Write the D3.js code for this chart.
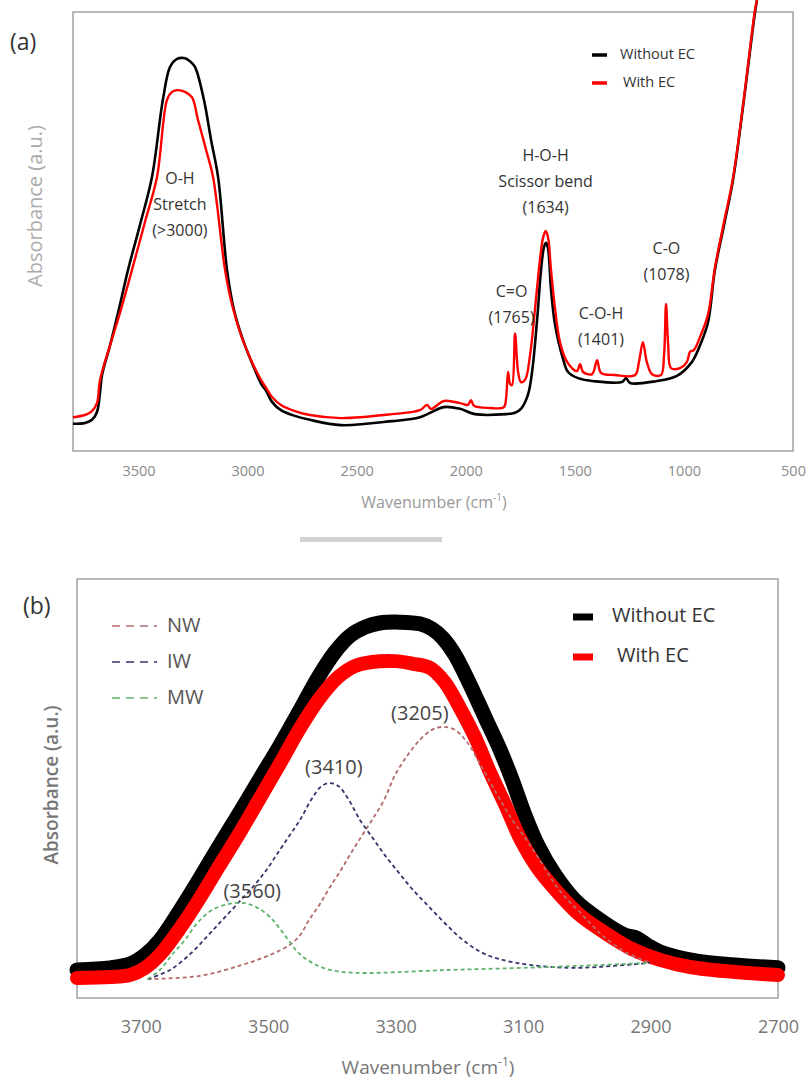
<!DOCTYPE html>
<html>
<head>
<meta charset="utf-8">
<script src="https://cdn.jsdelivr.net/npm/d3@7"></script>
<style>
  body { margin: 0; background: #fff; }
  text { font-family: "Open Sans", "Noto Sans", sans-serif; }
</style>
</head>
<body>
<script>
// ---- data: panel (a) full FTIR spectrum, [wavenumber, absorbance a.u.] ----
const specWithout = [
  [3800,0.062],[3745,0.064],[3713,0.071],[3690,0.089],[3676,0.134],[3667,0.173],[3630,0.241],
  [3585,0.333],[3548,0.412],[3493,0.515],[3438,0.624],[3388,0.800],[3355,0.875],
  [3323,0.893],[3291,0.895],[3264,0.888],[3241,0.875],[3200,0.800],[3167,0.708],[3135,0.624],
  [3094,0.412],[3062,0.321],[3021,0.253],[2970,0.189],[2934,0.150],[2915,0.137],[2888,0.112],
  [2847,0.093],[2783,0.080],[2714,0.071],[2572,0.059],[2338,0.068],[2210,0.077],[2100,0.100],
  [2026,0.096],[1958,0.084],[1815,0.084],[1774,0.087],[1747,0.096],[1715,0.128],[1696,0.180],
  [1673,0.298],[1655,0.412],[1641,0.465],[1632,0.474],[1623,0.462],[1609,0.367],[1591,0.289],
  [1554,0.210],[1531,0.180],[1485,0.166],[1412,0.159],[1284,0.157],[1265,0.166],[1247,0.155],
  [1128,0.159],[1032,0.171],[963,0.203],[926,0.241],[890,0.292],[858,0.412],[816,0.515],
  [775,0.617],[725,0.800],[674,1.000],[665,1.027]
];
const specWith = [
  [3800,0.077],[3745,0.082],[3713,0.091],[3690,0.109],[3676,0.162],[3630,0.241],[3585,0.314],
  [3530,0.412],[3470,0.522],[3415,0.624],[3369,0.800],[3346,0.818],
  [3319,0.822],[3287,0.818],[3255,0.806],[3227,0.754],[3190,0.686],[3158,0.624],[3103,0.412],
  [3071,0.333],[3030,0.264],[2980,0.203],[2943,0.166],[2915,0.144],[2888,0.123],[2847,0.105],
  [2783,0.091],[2714,0.082],[2572,0.075],[2338,0.084],[2210,0.093],[2177,0.105],[2159,0.096],
  [2100,0.114],[2026,0.109],[1990,0.105],[1976,0.116],[1962,0.103],[1889,0.098],[1825,0.100],
  [1815,0.121],[1806,0.180],[1797,0.153],[1788,0.150],[1774,0.268],[1760,0.180],[1747,0.157],
  [1728,0.162],[1705,0.219],[1683,0.321],[1660,0.435],[1646,0.485],[1634,0.501],[1623,0.487],
  [1609,0.412],[1591,0.326],[1568,0.248],[1540,0.207],[1513,0.189],[1490,0.182],[1476,0.198],
  [1462,0.180],[1421,0.175],[1398,0.207],[1380,0.178],[1316,0.173],[1224,0.173],[1206,0.203],
  [1188,0.248],[1170,0.203],[1146,0.175],[1105,0.173],[1091,0.219],[1082,0.335],[1072,0.241],
  [1059,0.189],[1018,0.189],[986,0.203],[972,0.226],[954,0.230],[926,0.260],[890,0.310],
  [858,0.417],[816,0.522],[775,0.622],[725,0.804],[674,1.005],[665,1.027]
];
const ticksA = [3500, 3000, 2500, 2000, 1500, 1000, 500];
const notesA = [
  { wn: 3310, a: 0.618, lines: ["O-H", "Stretch", "(>3000)"] },
  { wn: 1634, a: 0.670, lines: ["H-O-H", "Scissor bend", "(1634)"] },
  { wn: 1790, a: 0.360, lines: ["C=O", "(1765)"] },
  { wn: 1380, a: 0.310, lines: ["C-O-H", "(1401)"] },
  { wn: 1080, a: 0.458, lines: ["C-O", "(1078)"] }
];

// ---- data: panel (b) O-H band and its three fitted components ----
const bandWithout = [
  [3800,0.067],[3748,0.072],[3717,0.081],[3693,0.103],[3670,0.138],[3638,0.210],[3607,0.286],
  [3576,0.365],[3544,0.444],[3513,0.523],[3481,0.604],[3450,0.687],[3422,0.764],[3395,0.826],
  [3372,0.864],[3348,0.885],[3325,0.895],[3293,0.897],[3262,0.893],[3243,0.881],[3226,0.859],
  [3207,0.819],[3183,0.747],[3160,0.671],[3136,0.592],[3117,0.520],[3099,0.444],[3077,0.365],
  [3050,0.294],[3019,0.234],[2979,0.186],[2940,0.150],[2922,0.143],[2904,0.125],[2885,0.110],
  [2827,0.088],[2767,0.079],[2700,0.072]
];
const bandWith = [
  [3800,0.048],[3748,0.050],[3717,0.055],[3693,0.072],[3670,0.103],[3638,0.167],[3607,0.239],
  [3576,0.317],[3544,0.396],[3513,0.477],[3481,0.561],[3450,0.644],[3419,0.716],[3390,0.766],
  [3364,0.792],[3337,0.802],[3301,0.804],[3270,0.797],[3246,0.788],[3223,0.754],[3199,0.692],
  [3175,0.621],[3152,0.539],[3128,0.461],[3105,0.382],[3077,0.310],[3045,0.251],[3011,0.198],
  [2971,0.155],[2932,0.119],[2885,0.091],[2838,0.074],[2767,0.062],[2700,0.055]
];
const compNW = [
  [3689,0.045],[3607,0.053],[3541,0.079],[3497,0.103],[3467,0.126],[3450,0.150],[3436,0.186],
  [3419,0.224],[3403,0.265],[3386,0.305],[3370,0.346],[3353,0.387],[3337,0.425],[3318,0.473],
  [3301,0.532],[3281,0.580],[3262,0.616],[3243,0.640],[3226,0.647],[3207,0.640],[3188,0.611],
  [3171,0.568],[3152,0.516],[3136,0.473],[3117,0.425],[3099,0.387],[3081,0.346],[3064,0.305],
  [3047,0.265],[3030,0.234],[3011,0.205],[2992,0.174],[2973,0.146],[2940,0.110],[2901,0.084]
];
const compIW = [
  [3689,0.045],[3654,0.067],[3621,0.107],[3594,0.150],[3572,0.186],[3547,0.227],[3524,0.265],
  [3503,0.305],[3485,0.346],[3466,0.389],[3450,0.425],[3431,0.477],[3416,0.506],[3403,0.513],
  [3390,0.506],[3375,0.477],[3356,0.425],[3337,0.384],[3317,0.341],[3296,0.301],[3274,0.260],
  [3249,0.220],[3223,0.179],[3194,0.138],[3160,0.105],[3111,0.084],[3030,0.072],[2964,0.076],
  [2901,0.084]
];
const compMW = [
  [3689,0.045],[3670,0.067],[3651,0.103],[3631,0.138],[3610,0.181],[3588,0.210],[3563,0.224],
  [3541,0.227],[3519,0.217],[3497,0.193],[3474,0.150],[3452,0.107],[3431,0.084],[3403,0.067],
  [3362,0.060],[3215,0.067],[3058,0.074],[2901,0.084]
];
const ticksB = [3700, 3500, 3300, 3100, 2900, 2700];
const peakLabelsB = [
  { text: "(3205)", wn: 3262, a: 0.677 },
  { text: "(3410)", wn: 3397, a: 0.547 },
  { text: "(3560)", wn: 3525, a: 0.252 }
];
const compNames = ["NW", "IW", "MW"];
const compColors = ["#b46a6a", "#34346e", "#5fb36a"];
const seriesNames = ["Without EC", "With EC"];
const seriesColors = ["#000000", "#ff0000"];

// ---- svg ----
const svg = d3.select("body").append("svg")
  .attr("width", 809).attr("height", 1081);

/////////////////////////// panel (a)
const xA = d3.scaleLinear().domain([3800, 500]).range([73, 793]);
const yA = d3.scaleLinear().domain([0, 1]).range([451, 12]);

svg.append("rect")
  .attr("x", 73).attr("y", 12).attr("width", 720).attr("height", 439)
  .attr("fill", "none").attr("stroke", "#a0a0a0").attr("stroke-width", 1.5);

const lineA = d3.line()
  .x(d => xA(d[0])).y(d => yA(d[1]))
  .curve(d3.curveCatmullRom.alpha(0.5));

svg.append("path").datum(specWithout).attr("d", lineA)
  .attr("fill", "none").attr("stroke", seriesColors[0]).attr("stroke-width", 2.6);
svg.append("path").datum(specWith).attr("d", lineA)
  .attr("fill", "none").attr("stroke", seriesColors[1]).attr("stroke-width", 2.4);

const gxA = svg.append("g").attr("transform", "translate(0,451)")
  .call(d3.axisBottom(xA).tickValues(ticksA).tickFormat(d3.format("d"))
    .tickSize(0).tickPadding(15));
gxA.select(".domain").remove();
gxA.selectAll("text").attr("fill", "#8a8a8a").style("font-size", "14.5px")
  .style("font-family", "'Open Sans', sans-serif");

// annotations
notesA.forEach(n => {
  n.lines.forEach((t, i) => {
    svg.append("text")
      .attr("x", xA(n.wn)).attr("y", yA(n.a) + i * 26)
      .attr("text-anchor", "middle").attr("dominant-baseline", "middle")
      .attr("fill", "#333").style("font-size", "16px")
      .text(t);
  });
});

// legend (a)
seriesNames.forEach((s, i) => {
  svg.append("line")
    .attr("x1", 592).attr("x2", 607).attr("y1", 55 + i * 28).attr("y2", 55 + i * 28)
    .attr("stroke", seriesColors[i]).attr("stroke-width", 3.5);
  svg.append("text")
    .attr("x", 620 + i * 3).attr("y", 55 + i * 28)
    .attr("dominant-baseline", "middle").attr("fill", "#333")
    .style("font-size", "14.5px").text(s);
});

svg.append("text").attr("x", 10).attr("y", 50).attr("fill", "#333")
  .style("font-size", "23px").text("(a)");

svg.append("text")
  .attr("transform", "translate(37,206) rotate(-90)")
  .attr("text-anchor", "middle").attr("dominant-baseline", "middle")
  .attr("fill", "#ababab").style("font-size", "20px")
  .text("Absorbance (a.u.)");

const xlabA = svg.append("text")
  .attr("x", 434).attr("y", 508).attr("text-anchor", "middle")
  .attr("fill", "#999").style("font-size", "16px");
xlabA.append("tspan").text("Wavenumber (cm");
xlabA.append("tspan").attr("baseline-shift", "super").style("font-size", "10px").text("-1");
xlabA.append("tspan").text(")");

// grey scrollbar-like separator
svg.append("rect").attr("x", 300).attr("y", 537).attr("width", 142).attr("height", 5)
  .attr("fill", "#d2d2d2");

/////////////////////////// panel (b)
const xB = d3.scaleLinear().domain([3800, 2700]).range([77, 778]);
const yB = d3.scaleLinear().domain([0, 1]).range([998, 579]);

svg.append("rect")
  .attr("x", 77).attr("y", 579).attr("width", 701).attr("height", 419)
  .attr("fill", "none").attr("stroke", "#a0a0a0").attr("stroke-width", 1.5);

const lineB = d3.line()
  .x(d => xB(d[0])).y(d => yB(d[1]))
  .curve(d3.curveCatmullRom.alpha(0.5));

svg.append("path").datum(bandWithout).attr("d", lineB)
  .attr("fill", "none").attr("stroke", seriesColors[0]).attr("stroke-width", 15)
  .attr("stroke-linecap", "round").attr("stroke-linejoin", "round");
svg.append("path").datum(bandWith).attr("d", lineB)
  .attr("fill", "none").attr("stroke", seriesColors[1]).attr("stroke-width", 14)
  .attr("stroke-linecap", "round").attr("stroke-linejoin", "round");

[compNW, compIW, compMW].forEach((c, i) => {
  svg.append("path").datum(c).attr("d", lineB)
    .attr("fill", "none").attr("stroke", compColors[i]).attr("stroke-width", 1.8)
    .attr("stroke-dasharray", "4,3");
});

peakLabelsB.forEach(p => {
  svg.append("text")
    .attr("x", xB(p.wn)).attr("y", yB(p.a))
    .attr("text-anchor", "middle").attr("dominant-baseline", "middle")
    .attr("fill", "#444").style("font-size", "20px").text(p.text);
});

const gxB = svg.append("g").attr("transform", "translate(0,998)")
  .call(d3.axisBottom(xB).tickValues(ticksB).tickFormat(d3.format("d"))
    .tickSize(0).tickPadding(22));
gxB.select(".domain").remove();
gxB.selectAll("text").attr("fill", "#777").style("font-size", "18px")
  .style("font-family", "'Open Sans', sans-serif");

// component legend
compNames.forEach((n, i) => {
  svg.append("line")
    .attr("x1", 112).attr("x2", 157).attr("y1", 626 + i * 36).attr("y2", 626 + i * 36)
    .attr("stroke", compColors[i]).attr("stroke-width", 1.6).attr("stroke-dasharray", "8,6");
  svg.append("text")
    .attr("x", 167).attr("y", 627 + i * 36).attr("dominant-baseline", "middle")
    .attr("fill", "#555").style("font-size", "20px").text(n);
});

// series legend
seriesNames.forEach((s, i) => {
  svg.append("line")
    .attr("x1", 573).attr("x2", 593).attr("y1", 617 + i * 40).attr("y2", 617 + i * 40)
    .attr("stroke", seriesColors[i]).attr("stroke-width", 7);
  svg.append("text")
    .attr("x", 612 + i * 5).attr("y", 617 + i * 40).attr("dominant-baseline", "middle")
    .attr("fill", "#333").style("font-size", "20px").text(s);
});

svg.append("text").attr("x", 23).attr("y", 614).attr("fill", "#333")
  .style("font-size", "23px").text("(b)");

svg.append("text")
  .attr("transform", "translate(53,785) rotate(-90)")
  .attr("text-anchor", "middle").attr("dominant-baseline", "middle")
  .attr("fill", "#777").style("font-size", "19px").style("font-weight", "600")
  .text("Absorbance (a.u.)");

const xlabB = svg.append("text")
  .attr("x", 428).attr("y", 1074).attr("text-anchor", "middle")
  .attr("fill", "#777").style("font-size", "19px");
xlabB.append("tspan").text("Wavenumber (cm");
xlabB.append("tspan").attr("baseline-shift", "super").style("font-size", "12px").text("-1");
xlabB.append("tspan").text(")");
</script>
</body>
</html>
